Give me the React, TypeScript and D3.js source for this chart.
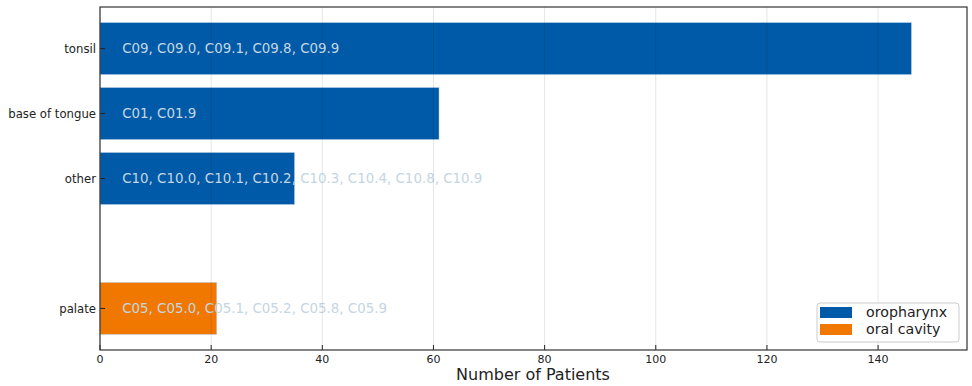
import React from "react";
import * as d3 from "d3";

const categories = ["tonsil", "base of tongue", "other", "palate"];
const positions = [0, 1, 2, 4];
const values = [146, 61, 35, 21];
const groups = ["oropharynx", "oropharynx", "oropharynx", "oral cavity"];
const codes = [
  "C09, C09.0, C09.1, C09.8, C09.9",
  "C01, C01.9",
  "C10, C10.0, C10.1, C10.2, C10.3, C10.4, C10.8, C10.9",
  "C05, C05.0, C05.1, C05.2, C05.8, C05.9",
];
const xTicks = [0, 20, 40, 60, 80, 100, 120, 140];
const legendItems = ["oropharynx", "oral cavity"];

const W = 972;
const H = 386;
const left = 100;
const right = 967;
const top = 7;
const bottom = 350;
const font = "DejaVu Sans, sans-serif";
const colors: Record<string, string> = { oropharynx: "#005aa7", "oral cavity": "#f07800" };

export default function App() {
  const x = d3.scaleLinear().domain([0, 156]).range([left, right]);
  const y = d3.scaleLinear().domain([-0.64, 4.64]).range([top, bottom]);
  const bh = y(0.8) - y(0);
  return (
    <svg width={W} height={H} style={{ position: "absolute", left: 0, top: 0, background: "#fff" }}>
      {values.map((v, i) => (
        <rect
          key={i}
          x={x(0)}
          y={y(positions[i]) - bh / 2}
          width={x(v) - x(0)}
          height={bh}
          fill={colors[groups[i]]}
          stroke="#b8d0e8"
          strokeOpacity={0.6}
          strokeWidth={0.8}
        />
      ))}
      {codes.map((c, i) => (
        <text
          key={i}
          x={x(4)}
          y={y(positions[i])}
          dy="0.35em"
          fontFamily={font}
          fontSize={13.4}
          fill="#c4d6e2"
        >
          {c}
        </text>
      ))}
      {xTicks.map((t) => (
        <g key={t}>
          <line x1={x(t)} x2={x(t)} y1={top} y2={bottom} stroke="#000" strokeOpacity={0.1} strokeWidth={1} />
          <line x1={x(t)} x2={x(t)} y1={bottom} y2={bottom - 5} stroke="#222" strokeWidth={1} />
          <text x={x(t)} y={bottom + 13} textAnchor="middle" fontFamily={font} fontSize={11} fill="#222">
            {t}
          </text>
        </g>
      ))}
      {categories.map((c, i) => (
        <g key={c}>
          <line x1={left} x2={left + 5} y1={y(positions[i])} y2={y(positions[i])} stroke="#222" strokeWidth={1} />
          <text
            x={left - 4}
            y={y(positions[i])}
            dy="0.35em"
            textAnchor="end"
            fontFamily={font}
            fontSize={11.7}
            fill="#222"
          >
            {c}
          </text>
        </g>
      ))}
      <rect x={left} y={top} width={right - left} height={bottom - top} fill="none" stroke="#333" strokeWidth={1.2} />
      <text x={533} y={380} textAnchor="middle" fontFamily={font} fontSize={16} fill="#222">
        Number of Patients
      </text>
      <g>
        <rect x={817} y={303} width={142} height={39} rx={3} fill="#fff" fillOpacity={0.8} stroke="#ccc" strokeWidth={1} />
        {legendItems.map((l, i) => (
          <g key={l}>
            <rect x={820} y={307 + i * 17} width={32} height={11} fill={colors[l]} />
            <text x={866} y={317 + i * 17} fontFamily={font} fontSize={14.2} fill="#222">
              {l}
            </text>
          </g>
        ))}
      </g>
    </svg>
  );
}
